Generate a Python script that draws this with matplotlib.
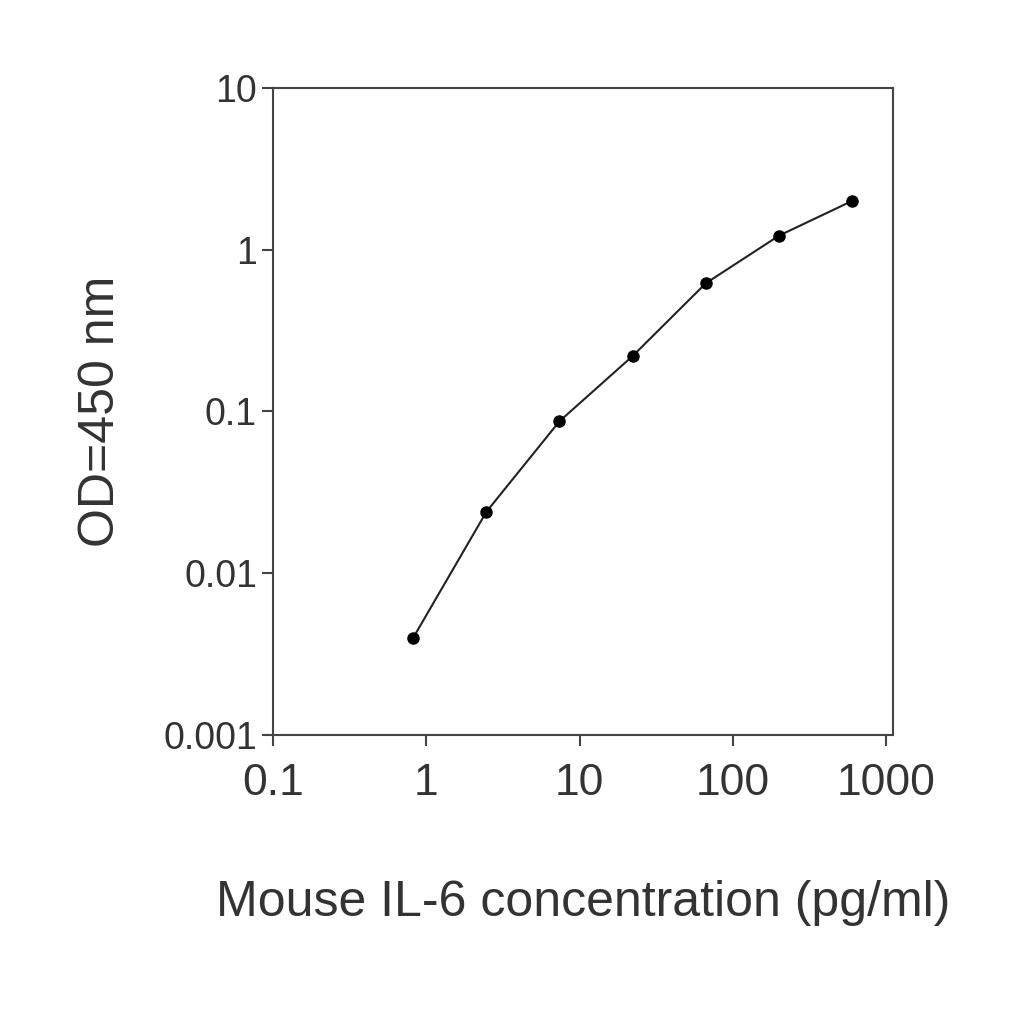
import matplotlib
matplotlib.use("Agg")
import matplotlib.pyplot as plt

conc = [0.823, 2.47, 7.4, 22.2, 66.7, 200, 600]
od = [0.0040, 0.024, 0.087, 0.22, 0.62, 1.22, 2.0]
xticks = [0.1, 1, 10, 100, 1000]
xticklabels = ["0.1", "1", "10", "100", "1000"]
yticks = [0.001, 0.01, 0.1, 1, 10]
yticklabels = ["0.001", "0.01", "0.1", "1", "10"]

plt.rcParams['font.family'] = ['Liberation Sans', 'DejaVu Sans']
fig = plt.figure(figsize=(10.24, 10.24), dpi=100)
ax = fig.add_axes([0.2666, 0.2822, 0.6055, 0.632])
ax.plot(conc, od, color='#222222', lw=1.5, marker='o', ms=8, mfc='black', mec='black')
ax.set_xscale('log'); ax.set_yscale('log')
ax.set_xlim(0.1, 1110); ax.set_ylim(0.001, 10)
ax.minorticks_off()
ax.set_xticks(xticks); ax.set_xticklabels(xticklabels, fontsize=32, color='#333333')
ax.set_yticks(yticks); ax.set_yticklabels(yticklabels, fontsize=27, color='#333333')
ax.tick_params(axis='both', direction='out', length=8, width=1.5, color='#444444')
ax.tick_params(axis='x', pad=12)
for s in ax.spines.values():
    s.set_linewidth(1.5); s.set_color('#444444')
ax.set_xlabel("Mouse IL-6 concentration (pg/ml)", fontsize=36, color='#333333', labelpad=55)
ax.set_ylabel("OD=450 nm", fontsize=36, color='#333333', labelpad=28)
fig.savefig("out.png", dpi=100)
